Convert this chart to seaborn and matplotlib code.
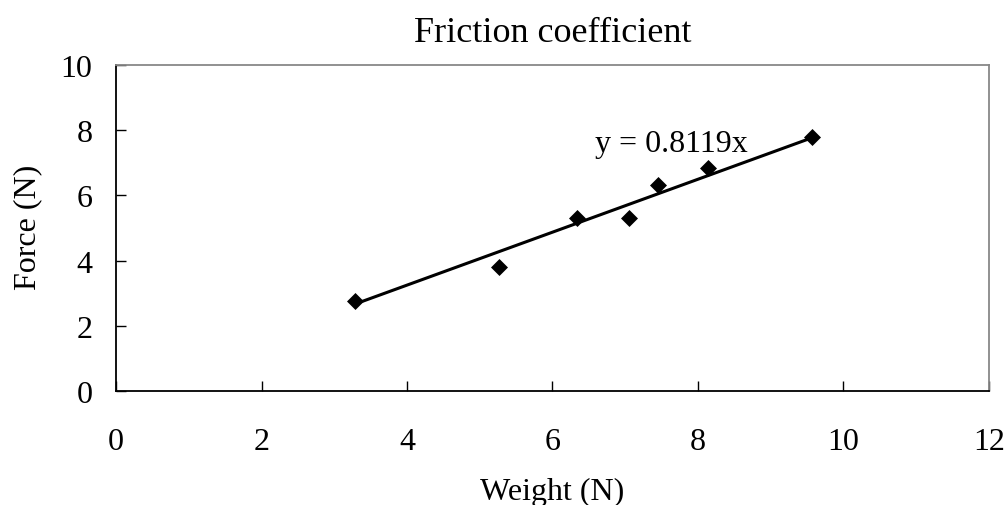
import numpy as np
import pandas as pd
import seaborn as sns
import matplotlib
matplotlib.use("Agg")
import matplotlib.pyplot as plt

weight = [3.29, 5.26, 6.34, 7.05, 7.45, 8.14, 9.57]
force = [2.77, 3.81, 5.31, 5.30, 6.33, 6.83, 7.78]
slope = 0.8119

title = "Friction coefficient"
x_label = "Weight (N)"
y_label = "Force (N)"
x_ticks = [0, 2, 4, 6, 8, 10, 12]
y_ticks = [0, 2, 4, 6, 8, 10]

df = pd.DataFrame({"weight": weight, "force": force})

# trendline through origin, over the data range
fit_x = np.array([min(weight), max(weight)])
fit = pd.DataFrame({"weight": fit_x, "force": slope * fit_x})

sns.set_theme(style="white")
plt.rcParams["font.family"] = ["Liberation Serif", "DejaVu Serif"]
plt.rcParams["text.color"] = "black"
plt.rcParams["axes.labelcolor"] = "black"

fig = plt.figure(figsize=(10.08, 5.06), dpi=100)
ax = fig.add_axes([0.1151, 0.2253, 0.8660, 0.6443])

sns.lineplot(data=fit, x="weight", y="force", color="black", linewidth=2.2, ax=ax)
sns.scatterplot(data=df, x="weight", y="force", marker="D", s=75, color="black",
                edgecolor="black", linewidth=0, ax=ax, zorder=3)

ax.text(7.64, 7.37, f"y = {slope}x", fontsize=23, ha="center", va="baseline")

ax.set_xlim(0, 12)
ax.set_ylim(0, 10)
ax.set_xticks(x_ticks)
ax.set_yticks(y_ticks)
ax.tick_params(axis="both", direction="in", length=7, width=1, color="black",
               labelsize=23, labelcolor="black", bottom=True, left=True)
ax.tick_params(axis="x", pad=26)
ax.tick_params(axis="y", pad=17)

for side in ["left", "bottom"]:
    ax.spines[side].set_color("black")
    ax.spines[side].set_linewidth(1.3)
for side in ["top", "right"]:
    ax.spines[side].set_color("#888888")
    ax.spines[side].set_linewidth(1.3)
ax.grid(False)

ax.set_xlabel(x_label, fontsize=23)
ax.set_ylabel(y_label, fontsize=23)
ax.xaxis.label.set_va("center")
ax.yaxis.label.set_va("center")
ax.xaxis.set_label_coords(0.5, -0.307)
ax.yaxis.set_label_coords(-0.101, 0.506)

ax.set_title(title, fontsize=26, y=1.101, va="center", pad=0)

fig.savefig("out.png", dpi=100, facecolor="white")
